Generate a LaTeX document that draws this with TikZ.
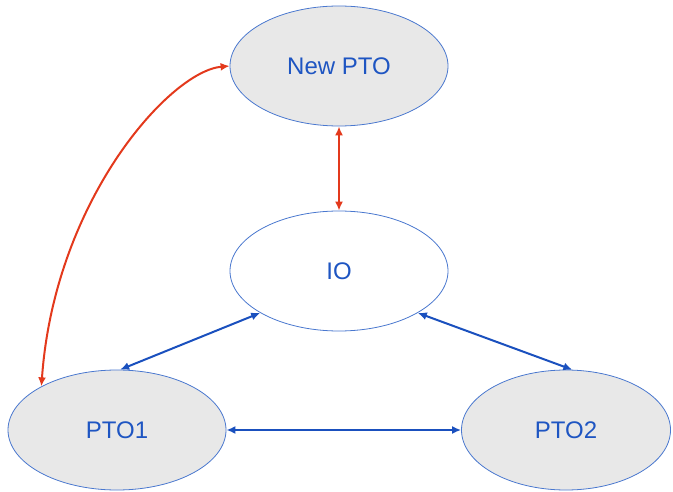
\documentclass[tikz,border=0pt]{standalone}
\usepackage{fontspec}
\setmainfont{Liberation Sans}
\usepackage{tikz}
\usetikzlibrary{shapes.geometric}
\usetikzlibrary{arrows.meta}
\definecolor{eline}{HTML}{4A78CF}
\definecolor{efill}{HTML}{E8E8E8}
\definecolor{etext}{HTML}{1E55C2}
\definecolor{lblue}{HTML}{1A50BE}
\definecolor{lred}{HTML}{E3391C}
\tikzset{
	PT/.style={ellipse,draw=eline,line width=0.8bp,fill=efill,text=etext,inner sep=0pt,
		minimum width=218bp,minimum height=120bp,font=\fontsize{24bp}{28bp}\selectfont}
}
\tikzset{
	LB/.style={{Latex[length=9bp,width=8bp]}-{Latex[length=9bp,width=8bp]},line width=2bp,draw=#1}
}

\begin{document}
\begin{tikzpicture}[x=1bp,y=-1bp]
		\useasboundingbox (0,0) rectangle (673,492);
		\node[PT] (newpto) at (339,66) {New PTO};
		\node[PT,fill=white] (io) at (339,271) {IO};
		\node[PT] (ptoone) at (117,430) {PTO1};
		\node[PT,minimum width=209bp] (ptotwo) at (566,430) {PTO2};
		%\draw[LB=lred] (ptoone) to[bend left=40] (newpto);
		\draw[LB=lred] (ptoone.150) to[out=86,in=185,out distance=186bp,in distance=60bp] (newpto.west);
		\draw[LB=lred] (newpto.south) -- (io.north);
		\draw[LB=lblue] (io.208) -- (ptoone.87);
		\draw[LB=lblue] (io.332) -- (ptotwo.84);
		\draw[LB=lblue] (ptoone.east) -- (ptotwo.west);
	\end{tikzpicture}
\end{document}
